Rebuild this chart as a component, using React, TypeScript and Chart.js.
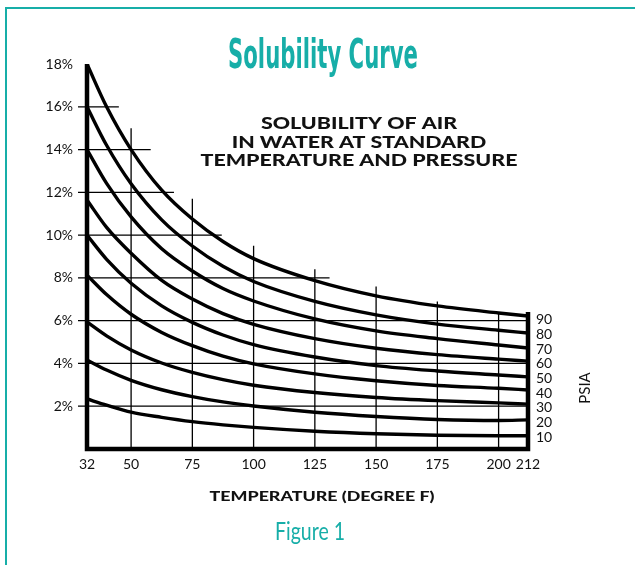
import React, { useEffect, useRef } from "react";
import { Chart, registerables } from "chart.js";

Chart.register(...registerables);

// ---------- data ----------
const temps = [32, 40, 50, 62.5, 75, 87.5, 100, 125, 150, 175, 200, 212];
const xTickValues = [32, 50, 75, 100, 125, 150, 175, 200, 212];
const yTickValues = [2, 4, 6, 8, 10, 12, 14, 16, 18];
const psiaLabels = [10, 20, 30, 40, 50, 60, 70, 80, 90];

const p90 = [18.0, 16.0, 14.0, 12.1, 10.75, 9.7, 8.9, 7.87, 7.16, 6.69, 6.36, 6.22];
const p80 = [16.0, 14.2, 12.4, 10.71, 9.49, 8.54, 7.83, 6.9, 6.27, 5.84, 5.55, 5.42];
const p70 = [14.0, 12.42, 10.85, 9.36, 8.32, 7.5, 6.92, 6.08, 5.52, 5.16, 4.86, 4.72];
const p60 = [11.64, 10.36, 9.15, 7.88, 7.01, 6.33, 5.83, 5.16, 4.71, 4.41, 4.2, 4.11];
const p50 = [10.0, 8.87, 7.75, 6.69, 5.92, 5.33, 4.88, 4.3, 3.9, 3.65, 3.46, 3.37];
const p40 = [8.13, 7.22, 6.3, 5.45, 4.83, 4.34, 3.98, 3.51, 3.19, 2.97, 2.84, 2.76];
const p30 = [5.94, 5.29, 4.63, 4.02, 3.58, 3.24, 2.98, 2.64, 2.41, 2.26, 2.155, 2.1];
const p20 = [4.16, 3.69, 3.21, 2.77, 2.45, 2.2, 2.01, 1.72, 1.52, 1.38, 1.33, 1.36];
const p10 = [2.34, 2.05, 1.72, 1.48, 1.28, 1.13, 1.01, 0.83, 0.71, 0.64, 0.62, 0.62];

const seriesNames = ["90", "80", "70", "60", "50", "40", "30", "20", "10"];
const seriesValues = [p90, p80, p70, p60, p50, p40, p30, p20, p10];

// partial grid (staircase) as in the original figure
const hGridLevels = [2, 4, 6, 8, 10, 12, 14, 16];
const hGridEnds = [212, 212, 212, 131, 87, 67.5, 58, 45];
const vGridTemps = [50, 75, 100, 125, 150, 175, 200];
const vGridTops = [15.0, 11.7, 9.5, 8.4, 7.6, 6.9, 6.4];
const axisMinX = 32;
const axisMaxX = 212;
const leftAxisTop = 18;
const rightAxisTop = 6.4;

const titleText = "Solubility Curve";
const subtitleLines = ["SOLUBILITY OF AIR", "IN WATER AT STANDARD", "TEMPERATURE AND PRESSURE"];
const xTitleText = "TEMPERATURE (DEGREE F)";
const psiaText = "PSIA";
const captionText = "Figure 1";

// ---------- styles ----------
const TEAL = "#17aea8";
const FONT = "Lato, 'Noto Sans', sans-serif";

function fitText(ctx: CanvasRenderingContext2D, text: string, cx: number, cy: number, width: number, font: string, color: string, baseline: CanvasTextBaseline = "middle") {
  ctx.save();
  ctx.font = font;
  ctx.fillStyle = color;
  ctx.textAlign = "center";
  ctx.textBaseline = baseline;
  const w = ctx.measureText(text).width;
  const s = width / w;
  ctx.translate(cx, cy);
  ctx.scale(s, 1);
  ctx.fillText(text, 0, 0);
  ctx.restore();
}

const figurePlugin = {
  id: "figureDecor",
  beforeDatasetsDraw(chart: any) {
    const { ctx, scales } = chart;
    const x = scales.x;
    const y = scales.y;
    ctx.save();
    ctx.strokeStyle = "#000";
    ctx.lineWidth = 1.3;
    ctx.beginPath();
    hGridLevels.forEach((v, i) => {
      const py = y.getPixelForValue(v);
      ctx.moveTo(x.getPixelForValue(axisMinX) - 9, py);
      ctx.lineTo(x.getPixelForValue(hGridEnds[i]), py);
    });
    vGridTemps.forEach((t, i) => {
      const px = x.getPixelForValue(t);
      ctx.moveTo(px, y.getPixelForValue(0));
      ctx.lineTo(px, y.getPixelForValue(vGridTops[i]));
    });
    ctx.stroke();

    ctx.lineWidth = 4.5;
    ctx.lineJoin = "miter";
    ctx.beginPath();
    ctx.moveTo(x.getPixelForValue(axisMinX), y.getPixelForValue(leftAxisTop));
    ctx.lineTo(x.getPixelForValue(axisMinX), y.getPixelForValue(0));
    ctx.lineTo(x.getPixelForValue(axisMaxX), y.getPixelForValue(0));
    ctx.lineTo(x.getPixelForValue(axisMaxX), y.getPixelForValue(rightAxisTop));
    ctx.stroke();
    ctx.restore();
  },
  afterDraw(chart: any) {
    const { ctx } = chart;
    // main title
    fitText(ctx, titleText, 323, 68, 190, "bold 41px 'Liberation Sans Narrow', 'DejaVu Sans Condensed', sans-serif", TEAL, "alphabetic");

    // subtitle block
    ctx.save();
    ctx.font = `900 16px ${FONT}`;
    const s = 317 / ctx.measureText(subtitleLines[2]).width;
    ctx.restore();
    const ys = [124, 142.5, 161];
    subtitleLines.forEach((line, i) => {
      ctx.save();
      ctx.font = `900 16px ${FONT}`;
      ctx.fillStyle = "#111";
      ctx.textAlign = "center";
      ctx.textBaseline = "middle";
      ctx.translate(359, ys[i]);
      ctx.scale(s, 1);
      ctx.fillText(line, 0, 0);
      ctx.restore();
    });

    // x axis title
    fitText(ctx, xTitleText, 322, 496, 225, `900 14px ${FONT}`, "#111");

    // PSIA
    ctx.save();
    ctx.font = `15px ${FONT}`;
    ctx.fillStyle = "#111";
    ctx.textAlign = "center";
    ctx.textBaseline = "middle";
    ctx.translate(585, 388);
    ctx.rotate(-Math.PI / 2);
    ctx.fillText(psiaText, 0, 0);
    ctx.restore();

    // caption
    fitText(ctx, captionText, 310, 540, 70, `25px ${FONT}`, TEAL, "alphabetic");
  },
};

export default function App() {
  const canvasRef = useRef<HTMLCanvasElement | null>(null);

  useEffect(() => {
    if (!canvasRef.current) return;
    const chart = new Chart(canvasRef.current, {
      type: "line",
      data: {
        datasets: seriesValues.map((vals, i) => ({
          label: seriesNames[i] + " PSIA",
          data: temps.map((t, j) => ({ x: t, y: vals[j] })),
          borderColor: "#000",
          borderWidth: 3.4,
          pointRadius: 0,
          fill: false,
          cubicInterpolationMode: "monotone" as const,
        })),
      },
      options: {
        responsive: false,
        animation: false,
        events: [],
        layout: { padding: { top: 64, bottom: 0, left: 0, right: 0 } },
        plugins: {
          legend: { display: false },
          tooltip: { enabled: false },
          title: { display: false },
        },
        scales: {
          x: {
            type: "linear",
            min: axisMinX,
            max: axisMaxX,
            grid: { display: false, drawTicks: false },
            border: { display: false },
            afterBuildTicks: (scale: any) => {
              scale.ticks = xTickValues.map((v) => ({ value: v }));
            },
            afterFit: (scale: any) => {
              scale.height = 116;
            },
            ticks: {
              padding: 7,
              color: "#111",
              font: { family: FONT, size: 14 },
              maxRotation: 0,
              autoSkip: false,
              callback: (v: any) => String(v),
            },
          },
          y: {
            type: "linear",
            position: "left",
            min: 0,
            max: 18,
            grid: { display: false, drawTicks: false },
            border: { display: false },
            afterBuildTicks: (scale: any) => {
              scale.ticks = yTickValues.map((v) => ({ value: v }));
            },
            afterFit: (scale: any) => {
              scale.width = 87;
            },
            ticks: {
              padding: 14,
              color: "#111",
              font: { family: FONT, size: 14 },
              callback: (v: any) => v + "%",
            },
          },
          y2: {
            type: "linear",
            position: "right",
            min: 1.8,
            max: 265,
            grid: { display: false, drawTicks: false },
            border: { display: false },
            afterBuildTicks: (scale: any) => {
              scale.ticks = psiaLabels.map((v) => ({ value: v }));
            },
            afterFit: (scale: any) => {
              scale.width = 107;
            },
            ticks: {
              padding: 8,
              color: "#111",
              font: { family: FONT, size: 14 },
              callback: (v: any) => String(v),
            },
          },
        },
      } as any,
      plugins: [figurePlugin],
    });
    return () => chart.destroy();
  }, []);

  return (
    <div style={{ position: "fixed", left: 0, top: 0, width: 635, height: 565, overflow: "hidden", background: "#fff" }}>
      <div
        style={{
          position: "absolute",
          left: 5,
          top: 7,
          width: 900,
          height: 900,
          border: `2.5px solid ${TEAL}`,
          boxSizing: "border-box",
        }}
      />
      <canvas ref={canvasRef} width={635} height={565} style={{ position: "absolute", left: 0, top: 0 }} />
    </div>
  );
}
